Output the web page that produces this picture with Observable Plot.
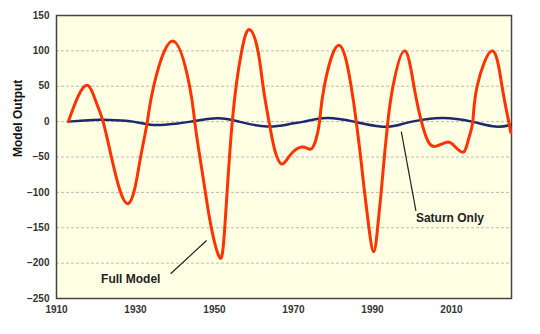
<!DOCTYPE html>
<html>
<head>
<meta charset="utf-8">
<script src="https://cdn.jsdelivr.net/npm/d3@7"></script>
<script src="https://cdn.jsdelivr.net/npm/@observablehq/plot@0.6"></script>
<style>
  html, body { margin: 0; padding: 0; background: #fff; }
  #chart { width: 540px; height: 334px; }
</style>
</head>
<body>
<div id="chart"></div>
<script>
// Full Model series (year, value)
const fullYears = [1913, 1915.5, 1918, 1920, 1921.8, 1923.9, 1926, 1928, 1929.8, 1931.3, 1933, 1934.6, 1939.4, 1943.7, 1945, 1946.3, 1947.7, 1949.2, 1951.3, 1952.6, 1954.5, 1956.9, 1958.9, 1961, 1962.3, 1963.8, 1965.3, 1967.1, 1969.2, 1972.2, 1974.3, 1975.6, 1976.6, 1977.8, 1981.5, 1984.6, 1985.9, 1987, 1988, 1989.1, 1990.3, 1991.3, 1992.2, 1993, 1993.9, 1995.2, 1998.1, 2000.5, 2002.4, 2004, 2005.9, 2008.9, 2011, 2013.1, 2014.3, 2015.4, 2016.5, 2020.3, 2022.8, 2024.5, 2025];
const fullValues = [0, 36, 51, 28, 0, -50, -96, -116, -95, -50, 0, 50, 114, 50, 0, -50, -100, -150, -192, -150, 0, 100, 130, 100, 50, 0, -41, -60, -47, -36, -39, -27, 0, 50, 108, 50, 0, -50, -100, -150, -184, -150, -100, -50, 0, 50, 100, 50, 0, -27, -35, -29, -36, -43, -25, 0, 50, 100, 50, 0, -15];

// Saturn Only series (year, value)
const saturnYears = [1913, 1917, 1921, 1925, 1929.4, 1934.5, 1940, 1944, 1950.7, 1956.2, 1963.3, 1969, 1972.6, 1978.5, 1985.3, 1992, 1996, 2000, 2007.6, 2015.2, 2021.1, 2025];
const saturnValues = [0, 1.5, 2.5, 2, 0, -4.7, -3, 0, 4.7, 0, -7, -3.5, 0, 5.2, 0, -7, -5.5, 0, 5.2, 0, -7, -4.7];

// Axis ticks
const xTicks = [1910, 1930, 1950, 1970, 1990, 2010];
const yTicks = [-250, -200, -150, -100, -50, 0, 50, 100, 150];

// Annotations: label text, label anchor (year, value), leader line start/end
const annoLabels = ["Full Model", "Saturn Only"];
const annoX = [1928.8, 2009.6];
const annoY = [-223, -137];
const leaderX1 = [1938.9, 1997.3];
const leaderY1 = [-215, -14];
const leaderX2 = [1948, 2001];
const leaderY2 = [-168, -126];

const full = fullYears.map((x, i) => ({x, y: fullValues[i]}));
const saturn = saturnYears.map((x, i) => ({x, y: saturnValues[i]}));
const annos = annoLabels.map((t, i) => ({t, x: annoX[i], y: annoY[i], x1: leaderX1[i], y1: leaderY1[i], x2: leaderX2[i], y2: leaderY2[i]}));

const chart = Plot.plot({
  width: 540,
  height: 334,
  marginLeft: 56,
  marginRight: 29,
  marginTop: 15,
  marginBottom: 36,
  style: {fontFamily: "'Liberation Sans', Arial, sans-serif", fontWeight: "bold", background: "#fff", color: "#333"},
  x: {domain: [1910, 2025.2], ticks: xTicks, tickFormat: "d"},
  y: {domain: [-250, 150], ticks: yTicks},
  marks: [
    Plot.frame({fill: "#FFFFE4", stroke: null}),
    Plot.gridY(yTicks.filter(d => d > -250 && d < 150), {stroke: "#aaa", strokeOpacity: 0.8, strokeDasharray: "3,2", strokeWidth: 1}),
    Plot.frame({stroke: "#444", strokeWidth: 1.5}),
    Plot.axisY({ticks: yTicks, tickSize: 0, tickPadding: 7, fontSize: 10, label: null}),
    Plot.axisX({ticks: xTicks, tickSize: 0, tickPadding: 7, fontSize: 10, label: null, tickFormat: "d"}),
    Plot.text(["Model Output"], {frameAnchor: "left", dx: -38, rotate: -90, fontSize: 12, fill: "#111"}),
    Plot.line(saturn, {x: "x", y: "y", stroke: "#1B2A6B", strokeWidth: 2.5, curve: "natural"}),
    Plot.line(full, {x: "x", y: "y", stroke: "#FF3300", strokeWidth: 3, curve: "natural"}),
    Plot.link(annos, {x1: "x1", y1: "y1", x2: "x2", y2: "y2", stroke: "#222", strokeWidth: 1.2}),
    Plot.text(annos, {x: "x", y: "y", text: "t", fontSize: 12, fill: "#222"})
  ]
});
document.getElementById("chart").appendChild(chart);
</script>
</body>
</html>
